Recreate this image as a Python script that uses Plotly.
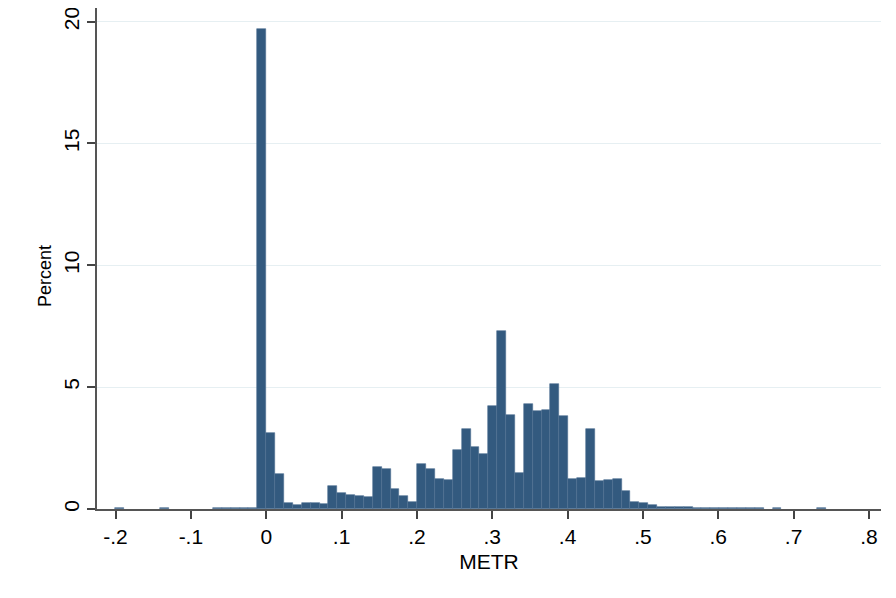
import plotly.graph_objects as go

# Histogram definition (Stata-style, 80 bins)
data_min = -0.2004
data_max = 0.7428
n_bins = 80

# Percent in each bin, left to right
percent = [
    0.03, 0, 0, 0, 0, 0.03, 0, 0, 0, 0, 0, 0.03, 0.03, 0.06, 0.06, 0.05,   # bins -17..-2
    19.7, 3.12, 1.45, 0.25, 0.17, 0.25, 0.25, 0.19, 0.96, 0.66,           # -1..8
    0.59, 0.55, 0.51, 1.74, 1.66, 0.83, 0.54, 0.28, 1.83, 1.66,           # 9..18
    1.23, 1.17, 2.43, 3.28, 2.56, 2.26, 4.22, 7.32, 3.87, 1.48,           # 19..28
    4.32, 4.02, 4.05, 5.11, 3.83, 1.25, 1.28, 3.28, 1.14, 1.17,           # 29..38
    1.24, 0.72, 0.29, 0.25, 0.18, 0.10, 0.09, 0.09, 0.07, 0.06,           # 39..48
    0.03, 0.03, 0.03, 0.03, 0.03, 0.03, 0.03, 0, 0.03, 0,                 # 49..58
    0, 0, 0, 0.03,                                                        # 59..62
]

x_tickvals = [-0.2, -0.1, 0, 0.1, 0.2, 0.3, 0.4, 0.5, 0.6, 0.7, 0.8]
x_ticktext = ["-.2", "-.1", "0", ".1", ".2", ".3", ".4", ".5", ".6", ".7", ".8"]
y_tickvals = [0, 5, 10, 15, 20]
y_ticktext = ["0", "5", "10", "15", "20"]
x_title = "METR"
y_title = "Percent"

bin_w = (data_max - data_min) / n_bins
centers = [data_min + (i + 0.5) * bin_w for i in range(n_bins)]
heights = [v if v > 0 else None for v in percent]  # empty bins are not drawn

FONT = "Liberation Sans, Arial, sans-serif"

fig = go.Figure(
    go.Bar(
        x=centers,
        y=heights,
        width=bin_w,
        marker=dict(color="#335a7f", line=dict(color="#4d6f92", width=0.6)),
        hoverinfo="x+y",
    )
)

fig.update_layout(
    width=896,
    height=598,
    margin=dict(l=89, r=23, t=0, b=96.5),
    paper_bgcolor="white",
    plot_bgcolor="white",
    showlegend=False,
    bargap=0,
    font=dict(family=FONT, size=21, color="black"),
    annotations=[
        dict(
            text=y_title,
            xref="paper", yref="paper",
            x=-0.0663, y=0.465,
            xanchor="center", yanchor="middle",
            textangle=-90,
            showarrow=False,
            font=dict(size=18, color="black"),
        )
    ],
)

fig.update_xaxes(
    range=[-0.2246, 0.816],
    tickmode="array",
    tickvals=x_tickvals,
    ticktext=x_ticktext,
    ticks="outside",
    ticklen=8,
    tickwidth=1.5,
    tickcolor="#444444",
    showline=True,
    linecolor="#555555",
    linewidth=1.5,
    showgrid=False,
    zeroline=False,
    tickfont=dict(size=21),
    title=dict(text=x_title, font=dict(size=21), standoff=7),
)

fig.update_yaxes(
    range=[0, 20.56],
    tickmode="array",
    tickvals=y_tickvals,
    ticktext=y_ticktext,
    ticks="outside",
    ticklen=8,
    tickwidth=1.5,
    tickcolor="#444444",
    tickangle=-90,
    ticklabelstandoff=0,
    ticklabeloverflow="allow",
    showline=True,
    linecolor="#555555",
    linewidth=1.5,
    showgrid=True,
    gridcolor="#e6eff2",
    gridwidth=1,
    zeroline=False,
    tickfont=dict(size=21),
)

fig.write_html("out.html")
